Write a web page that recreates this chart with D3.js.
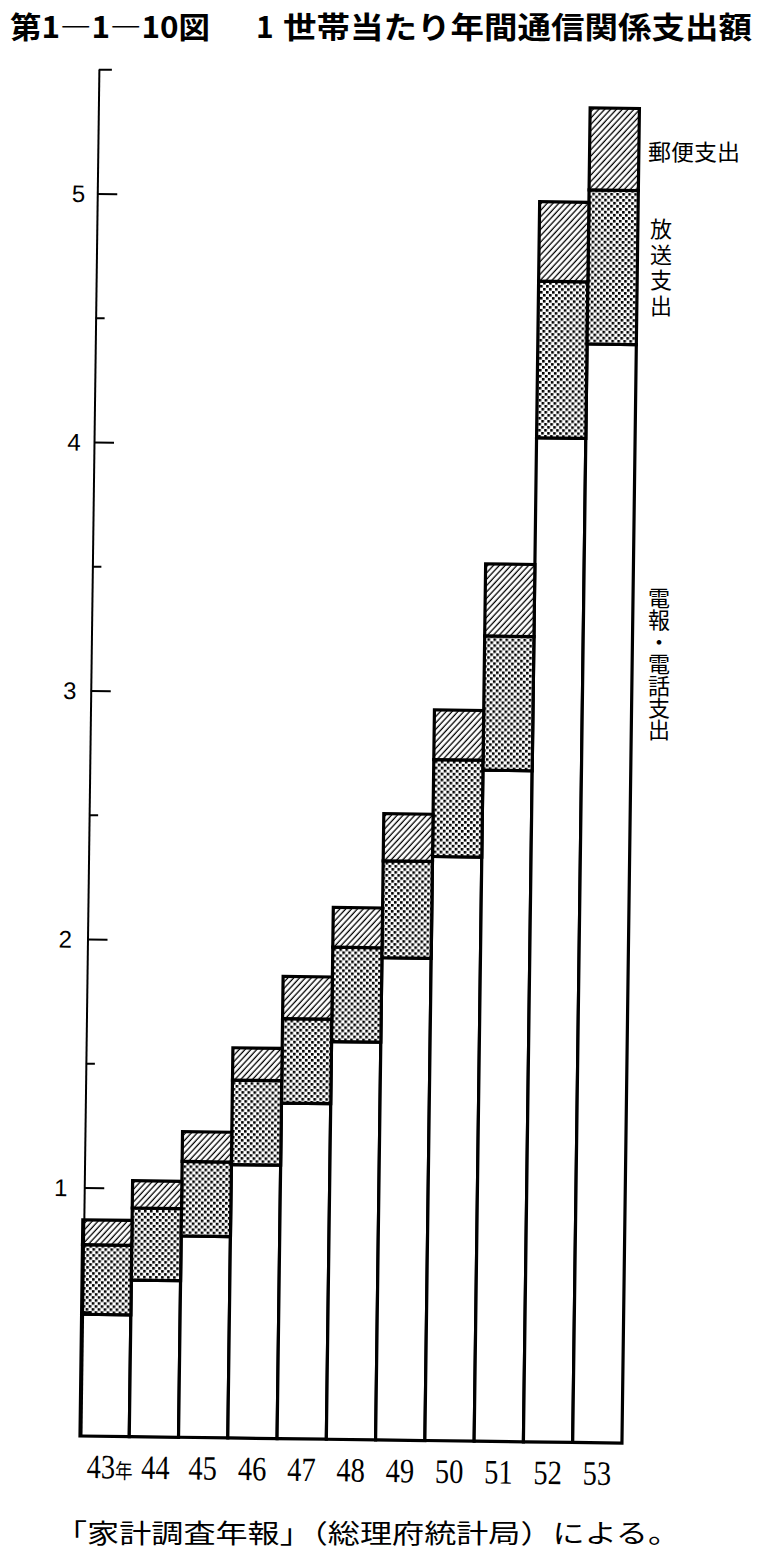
<!DOCTYPE html>
<html>
<head>
<meta charset="utf-8">
<script src="https://cdn.jsdelivr.net/npm/d3@7"></script>
<style>
    body { margin: 0; background: #fff; }
</style>
</head>
<body>
<div id="chart"></div>
<script>
// 1世帯当たり年間通信関係支出額 (千円)
const years = ["43", "44", "45", "46", "47", "48", "49", "50", "51", "52", "53"];
const xLabels = ["43", "44", "45", "46", "47", "48", "49", "50", "51", "52", "53"];
const telecom = [0.49, 0.63, 0.81, 1.10, 1.35, 1.60, 1.94, 2.35, 2.70, 4.04, 4.42];   // 電報・電話支出
const broadcast = [0.28, 0.29, 0.30, 0.34, 0.34, 0.38, 0.39, 0.39, 0.54, 0.63, 0.62]; // 放送支出
const postal = [0.10, 0.11, 0.12, 0.13, 0.17, 0.16, 0.19, 0.20, 0.29, 0.32, 0.33];    // 郵便支出
const yTickLabels = [1, 2, 3, 4, 5];

const W = 759, H = 1557;
const margin = { left: 80, right: 137, top: 69, bottom: 121 };
const baseY = H - margin.bottom;

const svg = d3.select("#chart").append("svg")
    .attr("width", W)
    .attr("height", H)
    .style("background", "#fff");

// Patterns: hatch for 郵便, dots for 放送
const defs = svg.append("defs");
const hatch = defs.append("pattern")
    .attr("id", "hatch")
    .attr("patternUnits", "userSpaceOnUse")
    .attr("width", 4.3).attr("height", 10)
    .attr("patternTransform", "rotate(42)");
hatch.append("rect").attr("width", 4.3).attr("height", 10).attr("fill", "#fff");
hatch.append("line")
    .attr("x1", 2).attr("y1", 0).attr("x2", 2).attr("y2", 10)
    .attr("stroke", "#000").attr("stroke-width", 1.3);

const dots = defs.append("pattern")
    .attr("id", "dots")
    .attr("patternUnits", "userSpaceOnUse")
    .attr("width", 6).attr("height", 6);
dots.append("rect").attr("width", 6).attr("height", 6).attr("fill", "#fff");
dots.append("rect").attr("x", 0).attr("y", 0).attr("width", 2.6).attr("height", 2.6).attr("fill", "#000");
dots.append("rect").attr("x", 3).attr("y", 3).attr("width", 2.6).attr("height", 2.6).attr("fill", "#000");

// the printed figure is scanned slightly tilted
const plot = svg.append("g").attr("transform", `rotate(0.75, ${margin.left}, ${baseY})`);

const x = d3.scaleBand().domain(years).range([margin.left, W - margin.right]).padding(0);
const y = d3.scaleLinear().domain([0, 5.5]).range([baseY, margin.top]);

const rows = years.map((yr, i) => ({ year: yr, telecom: telecom[i], broadcast: broadcast[i], postal: postal[i] }));
const stacked = d3.stack().keys(["telecom", "broadcast", "postal"])(rows);
const fills = ["#fff", "url(#dots)", "url(#hatch)"];

plot.selectAll("g.layer")
    .data(stacked)
    .join("g")
    .attr("class", "layer")
    .attr("fill", (d, i) => fills[i])
    .selectAll("rect")
    .data((d) => d)
    .join("rect")
    .attr("x", (d) => x(d.data.year))
    .attr("y", (d) => y(d[1]))
    .attr("width", x.bandwidth())
    .attr("height", (d) => y(d[0]) - y(d[1]))
    .attr("stroke", "#000")
    .attr("stroke-width", 3.2);

// Y axis: ticks every 0.5, longer at integers
const axisX = margin.left + 1;
const yAxis = plot.append("g")
    .attr("transform", `translate(${axisX},0)`)
    .call(d3.axisRight(y).tickValues(d3.range(0.5, 5.51, 0.5)).tickSizeOuter(0).tickFormat(""));
yAxis.select(".domain").attr("stroke", "#000").attr("stroke-width", 2);
yAxis.selectAll(".tick line")
    .attr("stroke", "#000")
    .attr("stroke-width", 2)
    .attr("x2", (d) => (d === 5.5 ? 13 : Number.isInteger(d) ? 20 : 9));

plot.selectAll("text.ylab")
    .data(yTickLabels)
    .join("text")
    .attr("class", "ylab")
    .attr("x", (d) => axisX - 12 - (5 - d) * 1.2)
    .attr("y", (d) => y(d) + 9)
    .attr("text-anchor", "end")
    .attr("font-family", "Liberation Sans, Arial, sans-serif")
    .attr("font-size", 24)
    .text((d) => d);

// X labels
const xl = plot.selectAll("text.xlab")
    .data(xLabels)
    .join("text")
    .attr("class", "xlab")
    .attr("x", (d, i) => x(years[i]) + x.bandwidth() / 2 + (i === 0 ? -19 : i === 1 ? 2 : 0))
    .attr("y", baseY + 42)
    .attr("text-anchor", (d, i) => (i === 0 ? "start" : "middle"))
    .attr("font-family", "Liberation Serif, Times New Roman, serif")
    .attr("font-size", 31)
    .attr("transform", (d, i) => {
        const cx = x(years[i]) + x.bandwidth() / 2;
        return `translate(${cx},${baseY + 42}) scale(0.92,1.1) translate(${-cx},${-(baseY + 42)})`;
    })
    .text((d) => d);
xl.filter((d, i) => i === 0)
    .append("tspan")
    .attr("font-family", "Noto Sans CJK JP, sans-serif")
    .attr("font-size", 19)
    .attr("dx", 0)
    .text("年");

// Title
const titleFont = "Noto Sans CJK JP, sans-serif";
svg.append("text")
    .attr("x", 10).attr("y", 38)
    .attr("font-family", titleFont).attr("font-weight", "bold").attr("font-size", 30)
    .attr("textLength", 200).attr("lengthAdjust", "spacingAndGlyphs")
    .text("第1―1―10図");
svg.append("text")
    .attr("x", 256).attr("y", 38)
    .attr("font-family", titleFont).attr("font-weight", "bold").attr("font-size", 30)
    .text("1");
svg.append("text")
    .attr("x", 283).attr("y", 38)
    .attr("font-family", titleFont).attr("font-weight", "bold").attr("font-size", 30)
    .attr("textLength", 469).attr("lengthAdjust", "spacingAndGlyphs")
    .text("世帯当たり年間通信関係支出額");

// Series labels on the right
const labFont = "Noto Sans CJK JP, sans-serif";
svg.append("text")
    .attr("x", 648).attr("y", 160)
    .attr("font-family", labFont).attr("font-size", 22)
    .attr("textLength", 92).attr("lengthAdjust", "spacingAndGlyphs")
    .text("郵便支出");

svg.append("text")
    .attr("x", 661).attr("y", 218)
    .attr("writing-mode", "vertical-rl")
    .attr("font-family", labFont).attr("font-size", 22)
    .attr("letter-spacing", 3.5)
    .text("放送支出");

svg.append("text")
    .attr("x", 659).attr("y", 587)
    .attr("writing-mode", "vertical-rl")
    .attr("font-family", labFont).attr("font-size", 22)
    .text("電報・電話支出");

// Source note
svg.append("text")
    .attr("x", 55).attr("y", 1543)
    .attr("font-family", labFont).attr("font-size", 26)
    .attr("textLength", 625).attr("lengthAdjust", "spacingAndGlyphs")
    .text("「家計調査年報」（総理府統計局）による。");
</script>
</body>
</html>
